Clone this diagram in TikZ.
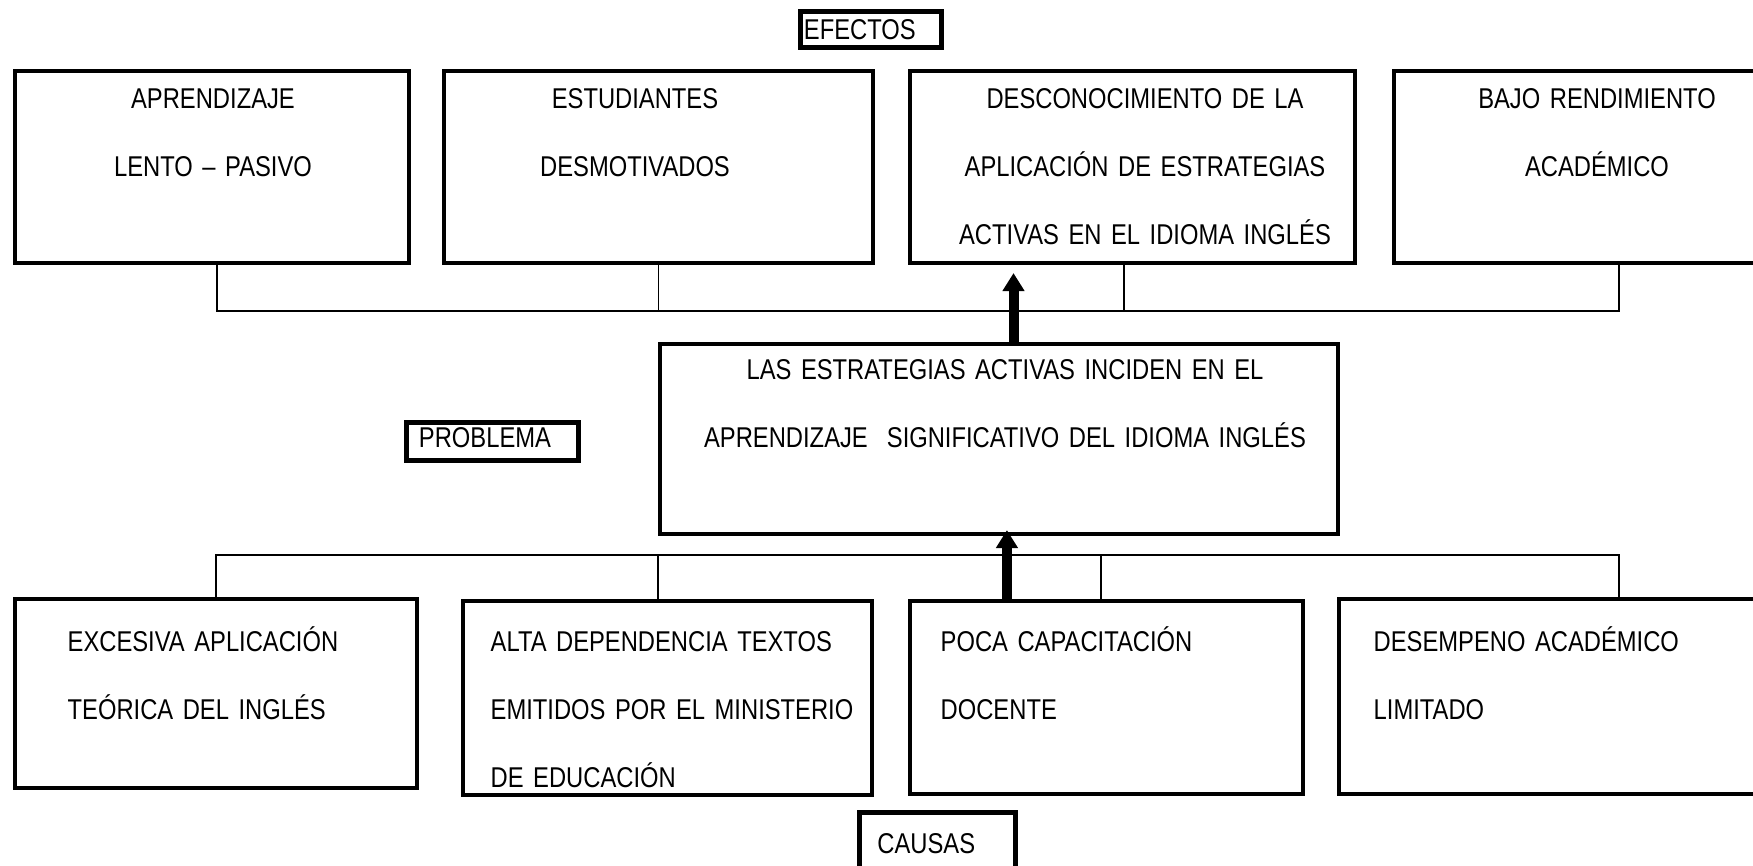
\documentclass[tikz,border=0pt]{standalone}
\usepackage{fontspec}
\setmainfont{Liberation Sans}[FakeStretch=0.83]
\usetikzlibrary{shapes,arrows.meta}
\newcommand{\letra}{\fontsize{8.14pt}{19.35pt}\selectfont}
\tikzstyle{caja} = [rectangle,draw,line width=0.04cm,inner sep=0pt,minimum height=1.92cm]

\begin{document}
\begin{tikzpicture}
		[
		x=0.01cm,y=-0.01cm,
		etiq/.style={
		rectangle,
		draw,
		line width=0.05cm,
		inner ysep=0pt,
		align=left,
		text height=0.205cm,
		text depth=0cm,
		font=\letra},
		txt/.style={inner sep=0pt,font=\letra},
		bus/.style={line width=0.015cm},
		flecha/.style={line width=0.1cm,-{Triangle[width=0.21cm,length=0.18cm]}}
		]
		\path[use as bounding box,fill=white] (0,0) rectangle (1753,866);

		\node[etiq,text width=1.34cm,inner xsep=0.035cm,minimum height=0.36cm] (efectos) at (871,29.5) {EFECTOS};
		\node[etiq,text width=1.47cm,inner xsep=0.125cm,minimum height=0.38cm,text depth=0.095cm] (problema) at (492.5,441.5) {PROBLEMA};
		\node[etiq,text width=1.2cm,inner xsep=0.18cm,minimum height=0.605cm] (causas) at (937.5,842.75) {CAUSAS};

		\node[caja,minimum width=3.94cm] (ef1) at (212,167) {};
		\node[caja,minimum width=4.29cm] (ef2) at (658.5,167) {};
		\node[caja,minimum width=4.45cm] (ef3) at (1132.5,167) {};
		\node[caja,minimum width=4.50cm] (ef4) at (1619,167) {};
		\node[caja,minimum width=6.78cm,minimum height=1.90cm] (cen) at (999,439) {};
		\node[caja,minimum width=4.02cm,minimum height=1.89cm] (ca1) at (216,693.5) {};
		\node[caja,minimum width=4.09cm,minimum height=1.94cm] (ca2) at (667.5,698) {};
		\node[caja,minimum width=3.93cm,minimum height=1.93cm] (ca3) at (1106.5,697.5) {};
		\node[caja,minimum width=5.60cm,minimum height=1.95cm] (ca4) at (1619,696.5) {};

		\node[txt,text width=6cm,align=center,anchor=base] (ef1t) at (213,108) {APRENDIZAJE\\LENTO – PASIVO};
		\node[txt,text width=6cm,align=center,anchor=base] (ef2t) at (635,108) {ESTUDIANTES\\DESMOTIVADOS};
		\node[txt,text width=6cm,align=center,anchor=base] (ef3t) at (1145,108) {DESCONOCIMIENTO DE LA\\APLICACIÓN DE ESTRATEGIAS\\ACTIVAS EN EL IDIOMA INGLÉS};
		\node[txt,text width=6cm,align=center,anchor=base] (ef4t) at (1597,108) {BAJO RENDIMIENTO\\ACADÉMICO};
		\node[txt,text width=8cm,align=center,anchor=base] (cent) at (1005,379) {LAS ESTRATEGIAS ACTIVAS INCIDEN EN EL\\APRENDIZAJE\ \ SIGNIFICATIVO DEL IDIOMA INGLÉS};
		\node[txt,text width=4.5cm,align=left,anchor=base west] (ca1t) at (67,651) {EXCESIVA APLICACIÓN\\TEÓRICA DEL INGLÉS};
		\node[txt,text width=4.5cm,align=left,anchor=base west] (ca2t) at (490,651) {ALTA DEPENDENCIA TEXTOS\\EMITIDOS POR EL MINISTERIO\\DE EDUCACIÓN};
		\node[txt,text width=4.5cm,align=left,anchor=base west] (ca3t) at (940,651) {POCA CAPACITACIÓN\\DOCENTE};
		\node[txt,text width=4.5cm,align=left,anchor=base west] (ca4t) at (1373,651) {DESEMPENO ACADÉMICO\\LIMITADO};

		\draw[bus] ([xshift=0.05cm]ef1.south) -- ++(0,46) -| (ef4.south);
		\draw[bus] (ef2.south) -- ++(0,46);
		\draw[bus] ([xshift=-0.085cm]ef3.south) -- ++(0,46);
		\draw[bus] (ca1.north) -- ++(0,-42) -| (ca4.north);
		\draw[bus] ([xshift=-0.095cm]ca2.north) -- ++(0,-44);
		\draw[bus] ([xshift=-0.055cm]ca3.north) -- ++(0,-44);

		\draw[flecha] ([xshift=0.145cm]cen.north) -- ([xshift=0.145cm,yshift=-0.08cm]cen.north |- ef3.south);
		\draw[flecha] ([xshift=-0.995cm]ca3.north) -- ([xshift=-0.995cm,yshift=0.06cm]ca3.north |- cen.south);
		\end{tikzpicture}
\end{document}
